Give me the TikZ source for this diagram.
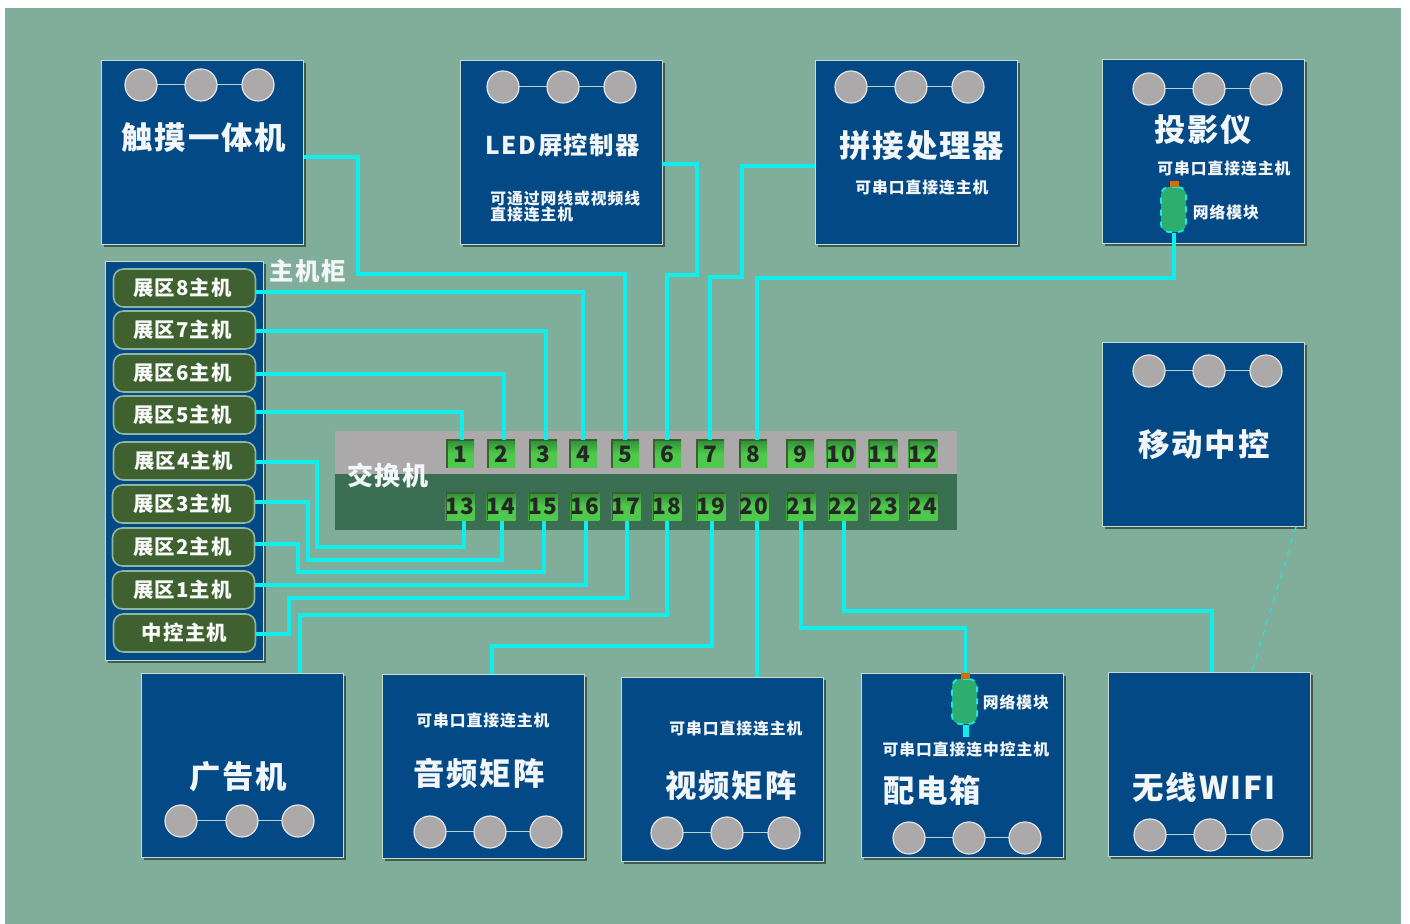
\documentclass[tikz,border=0pt]{standalone}
\usepackage{fontspec}
\setmainfont{Noto Sans CJK SC}[LetterSpace=6]
\usetikzlibrary{shadows}
\definecolor{bgteal}{HTML}{80AE9B}
\definecolor{panelblue}{HTML}{024986}
\definecolor{wirecyan}{HTML}{10EEEC}
\definecolor{hostgreen}{HTML}{3F602F}
\definecolor{swgray}{HTML}{ABA9AA}
\definecolor{swgreen}{HTML}{3A6F54}
\definecolor{portlit}{HTML}{4FC94B}
\definecolor{portdim}{HTML}{2F8F36}
\definecolor{portedge}{HTML}{3A5F30}
\definecolor{modgreen}{HTML}{2EAE6E}
\tikzset{x=.5pt,y=-.5pt,
panel/.style={draw=bgteal!45!white,line width=.35pt,fill=panelblue,minimum width=101pt,minimum height=92pt,inner sep=0pt,drop shadow={shadow xshift=1.3pt,shadow yshift=-1.3pt,fill=black!60!bgteal,opacity=.8}},
cabinet/.style={panel,minimum width=79pt,minimum height=199.5pt},
hostbox/.style={draw=bgteal!90!white,line width=.8pt,rounded corners=5pt,fill=hostgreen,minimum width=71pt,minimum height=19pt,inner sep=0pt,text=white!95!bgteal,font=\bfseries\fontsize{10.2}{10.2}\selectfont},
dot/.style={circle,draw=white!70!swgray,line width=.6pt,fill=swgray,minimum size=16pt,inner sep=0pt},
dotlink/.style={draw=bgteal!55!white,line width=.5pt},
port/.style={minimum width=14pt,minimum height=14pt,inner sep=0pt,top color=portdim,bottom color=portlit,middle color=portlit,font=\bfseries\fontsize{11.3}{11.3}\selectfont,text=black!85,
 path picture={\draw[portedge,line width=1.5pt] (path picture bounding box.south west)--(path picture bounding box.north west)--(path picture bounding box.north east);}},
wire/.style={draw=wirecyan,line width=1.8pt},
title/.style={text=white!95!panelblue,font=\bfseries\fontsize{15.7}{15.7}\selectfont,inner sep=0pt},
note/.style={text=white!95!panelblue,font=\bfseries\fontsize{7.9}{8}\selectfont,inner sep=0pt,align=left},
netmod/.style={draw=wirecyan,dashed,line width=.9pt,rounded corners=4pt,fill=modgreen,minimum width=12.5pt,minimum height=22.5pt,inner sep=0pt},
netcap/.style={fill=orange!85!black,minimum width=4.5pt,minimum height=3pt,inner sep=0pt}}
\begin{document}
\begin{tikzpicture}
\useasboundingbox (0,0) rectangle (1410,924);
\fill[bgteal] (5,8) rectangle (1401,924);
% equipment panels
\node[panel] (touch) at (202.5,152.5) {};
\node[panel] (led) at (561,152.5) {};
\node[panel] (splice) at (916.5,152.5) {};
\node[panel] (proj) at (1203.5,151.5) {};
\node[panel] (mobile) at (1203.5,434.5) {};
\node[panel] (ad) at (242.5,765) {};
\node[panel] (audio) at (483.5,766.5) {};
\node[panel] (video) at (722.5,769.5) {};
\node[panel] (power) at (962,765.5) {};
\node[panel] (wifi) at (1209.5,764) {};
\foreach \nm/\xa/\xb/\xc/\yy in {touch/141/201/258/85,led/503/563/620/87,splice/851/911/968/87,proj/1149/1209/1266/89,mobile/1149/1209/1266/371,ad/181/242/298/821,audio/430/490/546/832,video/667/727/784/833,power/909/969/1025/838,wifi/1150/1210/1267/835}{
 \draw[dotlink] (\xa,\yy) -- (\xc,\yy);
 \node[dot] (\nm a) at (\xa,\yy) {};
 \node[dot] (\nm b) at (\xb,\yy) {};
 \node[dot] (\nm c) at (\xc,\yy) {};
}
\node[title] (ttouch) at (204,138) {触摸一体机};
\node[title,font=\bfseries\fontsize{12.2}{12.2}\selectfont] (tled) at (563,145) {LED屏控制器};
\node[note,anchor=west] (nled) at (490,207) {可通过网线或视频线\\直接连主机};
\node[title] (tsplice) at (922,146) {拼接处理器};
\node[note] (nsplice) at (922,188) {可串口直接连主机};
\node[title] (tproj) at (1203,130) {投影仪};
\node[note] (nproj) at (1224,169) {可串口直接连主机};
\node[note] (mproj) at (1226,212) {网络模块};
\node[title] (tmobile) at (1204,445) {移动中控};
\node[title] (tad) at (238,777) {广告机};
\node[title] (taudio) at (479,773) {音频矩阵};
\node[note] (naudio) at (483,721) {可串口直接连主机};
\node[title] (tvideo) at (731,786) {视频矩阵};
\node[note] (nvideo) at (736,729) {可串口直接连主机};
\node[title] (tpower) at (932,790) {配电箱};
\node[note] (npower) at (966,750) {可串口直接连中控主机};
\node[note] (mpower) at (1016,702) {网络模块};
\node[title] (twifi) at (1204,788) {无线WIFI};
% host cabinet
\node[cabinet] (rack) at (184,460.5) {};
\node[hostbox] (h8) at (184.5,288) {\hspace{-2pt}展区8主机};
\node[hostbox] (h7) at (184.5,330) {\hspace{-2pt}展区7主机};
\node[hostbox] (h6) at (184.5,373) {\hspace{-2pt}展区6主机};
\node[hostbox] (h5) at (184.5,415) {\hspace{-2pt}展区5主机};
\node[hostbox] (h4) at (184.5,461) {\hspace{-1pt}展区4主机};
\node[hostbox] (h3) at (183.5,504) {\hspace{-1pt}展区3主机};
\node[hostbox] (h2) at (183.5,547) {\hspace{-1pt}展区2主机};
\node[hostbox] (h1) at (183.5,590) {\hspace{-1pt}展区1主机};
\node[hostbox] (hc) at (184.5,633) {中控主机};
\node[title,font=\bfseries\fontsize{12.2}{12.2}\selectfont] (track) at (308,271) {主机柜};
% switch
\node[minimum width=311pt,minimum height=21.5pt,inner sep=0pt,fill=swgray] (swtop) at (646,452.5) {};
\node[minimum width=311pt,minimum height=28pt,inner sep=0pt,fill=swgreen] (swbot) at (646,502) {};
\node[title,font=\bfseries\fontsize{13}{13}\selectfont] (tsw) at (388,475) {交换机};
\foreach \num/\xx in {1/460,2/501,3/543,4/583,5/625,6/667,7/710,8/753,9/800,10/841,11/883,12/923}
 \node[port] (p\num) at (\xx,454) {\num};
\foreach \num/\xx in {13/460,14/501,15/543,16/585,17/626,18/667,19/711,20/754,21/801,22/843,23/884,24/923}
 \node[port] (p\num) at (\xx,506.5) {\num};
% network modules
\node[netmod] (modp) at (1173.5,209.5) {};
\node[netcap] (capp) at (1174.5,184) {};
\node[netmod] (modq) at (964.5,701.5) {};
\node[netcap] (capq) at (965.5,676) {};
\coordinate (stub) at (966,737);
% connections
\draw[wire] (touch.east |- 0,157) -- (358,157) -- (358,274) -| (p5.north);
\draw[wire] (led.east |- 0,164) -- (697,164) -- (697,275) -| (p6.north);
\draw[wire] (splice.west |- 0,166) -- (742,166) -- (742,277) -| (p7.north);
\draw[wire] (modp.south -| 1174,0) -- (1174,278) -| ([xshift=2pt]p8.north);
\draw[wire] ([yshift=-2pt]h8.east) -| (p4.north);
\draw[wire] ([yshift=-.5pt]h7.east) -| ([xshift=1.5pt]p3.north);
\draw[wire] ([yshift=-.5pt]h6.east) -| ([xshift=1.5pt]p2.north);
\draw[wire] ([yshift=1.5pt]h5.east) -| ([xshift=1pt]p1.north);
\draw[wire] ([yshift=-.5pt]h4.east) -- (317,462) -- (317,547) -| ([xshift=2pt]p13.south);
\draw[wire] ([yshift=1pt]h3.east) -- (308,502) -- (308,560) -| ([xshift=.5pt]p14.south);
\draw[wire] ([yshift=1.5pt]h2.east) -- (298,544) -- (298,572) -| ([xshift=.5pt]p15.south);
\draw[wire] ([yshift=2.5pt]h1.east) -| ([xshift=.5pt]p16.south);
\draw[wire] ([yshift=-.5pt]hc.east) -- (289,634) -- (289,598) -| ([xshift=.5pt]p17.south);
\draw[wire] (300,0 |- ad.north) -- (300,615) -| (p18.south);
\draw[wire] (492,0 |- audio.north) -- (492,646) -| ([xshift=.5pt]p19.south);
\draw[wire] (757,0 |- video.north) -- ([xshift=1.5pt]p20.south);
\draw[wire] (capq.north) -- (965.5,628) -| (p21.south);
\draw[wire] (1212,0 |- wifi.north) -- (1212,611) -| ([xshift=.5pt]p22.south);
\draw[wire,line width=2.8pt] (modq.south -| stub) -- (stub);
\draw[draw=wirecyan!70!bgteal,line width=.7pt,dashed] (1296,0 |- mobile.south) -- (1252,0 |- wifi.north);
\end{tikzpicture}
\end{document}
